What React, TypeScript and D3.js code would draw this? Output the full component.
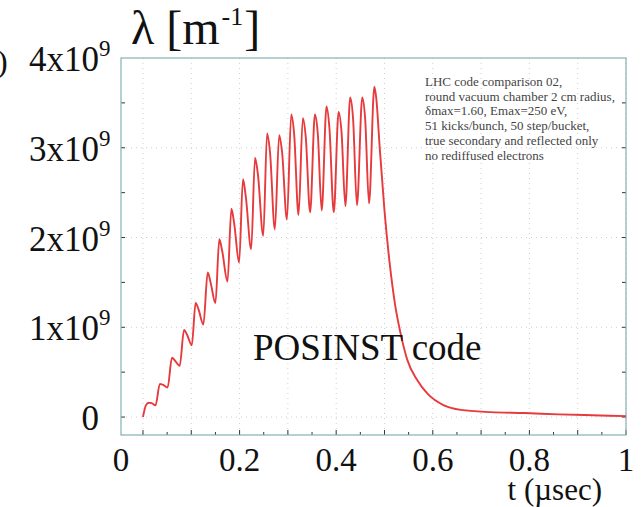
import React from 'react';
import * as d3 from 'd3';

// time (µs) and line density λ (units of 1e9 m^-1)
const timeUs = [
  0, 0.006, 0.012, 0.018, 0.026,
  0.035, 0.041, 0.051,
  0.060, 0.066, 0.076,
  0.085, 0.091, 0.101,
  0.109, 0.115, 0.125,
  0.134, 0.140, 0.150,
  0.158, 0.164, 0.175,
  0.183, 0.189, 0.199,
  0.207, 0.213, 0.224,
  0.232, 0.238, 0.249,
  0.257, 0.263, 0.273,
  0.282, 0.288, 0.298,
  0.307, 0.313, 0.322,
  0.331, 0.337, 0.346,
  0.356, 0.362, 0.370,
  0.380, 0.386, 0.395,
  0.405, 0.411, 0.419,
  0.429, 0.435, 0.443,
  0.454, 0.460, 0.468,
  0.479, 0.483, 0.490, 0.500, 0.511, 0.522, 0.533, 0.547, 0.568, 0.589,
  0.623, 0.658, 0.72, 0.79, 0.86, 0.93, 1.0,
];
const lambdaE9 = [
  0, 0.13, 0.16, 0.155, 0.13,
  0.37, 0.36, 0.33,
  0.66, 0.63, 0.57,
  0.97, 0.92, 0.80,
  1.27, 1.20, 1.03,
  1.61, 1.50, 1.27,
  1.98, 1.85, 1.51,
  2.32, 2.15, 1.72,
  2.65, 2.45, 1.87,
  2.89, 2.70, 2.02,
  3.16, 2.95, 2.09,
  3.14, 2.95, 2.20,
  3.37, 3.15, 2.25,
  3.33, 3.12, 2.28,
  3.37, 3.15, 2.30,
  3.46, 3.22, 2.28,
  3.40, 3.18, 2.35,
  3.56, 3.32, 2.36,
  3.56, 3.32, 2.38,
  3.68, 3.55, 3.01, 2.30, 1.70, 1.25, 0.94, 0.64, 0.41, 0.26,
  0.13, 0.08, 0.055, 0.045, 0.03, 0.02, 0.01,
];

const xTickLabels = ['0', '0.2', '0.4', '0.6', '0.8', '1'];
const xTickValues = [0, 0.2, 0.4, 0.6, 0.8, 1];
const xGridValues = [0, 0.1, 0.2, 0.3, 0.4, 0.5, 0.6, 0.7, 0.8, 0.9, 1];
const xMinorTicks = d3.range(0, 1.0001, 0.05);
const yTickValues = [0, 1, 2, 3, 4];
const yTickLabels = ['0', '1x10', '2x10', '3x10', '4x10'];
const yTickExp = ['', '9', '9', '9', '9'];
const yGridValues = [0, 1, 2, 3];
const yMinorTicks = [0, 0.5, 1, 1.5, 2, 2.5, 3, 3.5];

const noteLines = [
  'LHC code comparison 02,',
  'round vacuum chamber 2 cm radius,',
  'δmax=1.60, Emax=250 eV,',
  '51 kicks/bunch, 50 step/bucket,',
  'true secondary and reflected only',
  'no rediffused electrons',
];
const curveLabel = 'POSINST code';
const xTitle = 't (µsec)';
const yTitleMain = 'λ [m';
const yTitleExp = '-1';

const W = 641;
const H = 507;
const frame = { left: 121, right: 626, top: 58, bottom: 435 };
const serif = '"Liberation Serif", "Times New Roman", serif';

export default function App() {
  const x = d3.scaleLinear().domain([-0.0455, 1]).range([frame.left, frame.right]);
  const y = d3.scaleLinear().domain([-0.2, 4]).range([frame.bottom, frame.top]);
  const pts = timeUs.map((t, i) => [t, lambdaE9[i]] as [number, number]);
  const line = d3
    .line<[number, number]>()
    .x((d) => x(d[0]))
    .y((d) => y(d[1]))
    .curve(d3.curveMonotoneX);

  return (
    <svg
      width={W}
      height={H}
      style={{ position: 'absolute', left: 0, top: 0, background: '#fff' }}
      fontFamily={serif}
    >
      <rect x={0} y={0} width={W} height={H} fill="#fff" />
      {/* grid */}
      {xGridValues.map((v) => (
        <line key={'gx' + v} x1={x(v)} x2={x(v)} y1={frame.top} y2={frame.bottom}
          stroke="#cfcfcf" strokeWidth={1} strokeDasharray="1,4" />
      ))}
      {yGridValues.map((v) => (
        <line key={'gy' + v} x1={frame.left} x2={frame.right} y1={y(v)} y2={y(v)}
          stroke="#cfcfcf" strokeWidth={1} strokeDasharray="1,4" />
      ))}
      {/* ticks */}
      {xMinorTicks.map((v, i) => (
        <line key={'tx' + i} x1={x(v)} x2={x(v)} y1={frame.bottom}
          y2={frame.bottom - (i % 2 === 0 ? 5 : 3)} stroke="#333" strokeWidth={1} />
      ))}
      {yMinorTicks.map((v, i) => (
        <g key={'ty' + i}>
          <line x1={frame.left} x2={frame.left + 4} y1={y(v)} y2={y(v)} stroke="#333" strokeWidth={1} />
          <line x1={frame.right} x2={frame.right - 4} y1={y(v)} y2={y(v)} stroke="#333" strokeWidth={1} />
        </g>
      ))}
      {/* frame */}
      <rect x={frame.left} y={frame.top} width={frame.right - frame.left}
        height={frame.bottom - frame.top} fill="none" stroke="#86b0b2" strokeWidth={1.2} />
      {/* curve */}
      <path d={line(pts) || ''} fill="none" stroke="#e63a3c" strokeWidth={1.9} strokeLinejoin="round" />
      {/* x labels */}
      {xTickValues.map((v, i) => (
        <text key={'lx' + i} x={v === 0 ? frame.left : x(v)} y={471} fontSize={33}
          textAnchor="middle" fill="#111">{xTickLabels[i]}</text>
      ))}
      <text x={602} y={500} fontSize={31} textAnchor="end" fill="#111">{xTitle}</text>
      {/* y labels */}
      {yTickValues.map((v, i) => (
        <g key={'ly' + i}>
          <text x={99} y={y(v) + 13} fontSize={35} textAnchor="end" fill="#111">{yTickLabels[i]}</text>
          {yTickExp[i] && (
            <text x={99} y={y(v) - 2} fontSize={23} textAnchor="start" fill="#111">{yTickExp[i]}</text>
          )}
        </g>
      ))}
      {/* y title */}
      <text x={131} y={44} fontSize={48} fill="#111">
        {yTitleMain}
        <tspan fontSize={26} dx={2} dy={-19}>{yTitleExp}</tspan>
        <tspan dx={1} dy={19}>]</tspan>
      </text>
      <text x={-3} y={72} fontSize={32} fill="#111">)</text>
      {/* annotation */}
      {noteLines.map((s, i) => (
        <text key={'n' + i} x={425} y={86 + i * 14.7} fontSize={13} fill="#444">{s}</text>
      ))}
      <text x={253} y={360} fontSize={37} fill="#111">{curveLabel}</text>
    </svg>
  );
}
